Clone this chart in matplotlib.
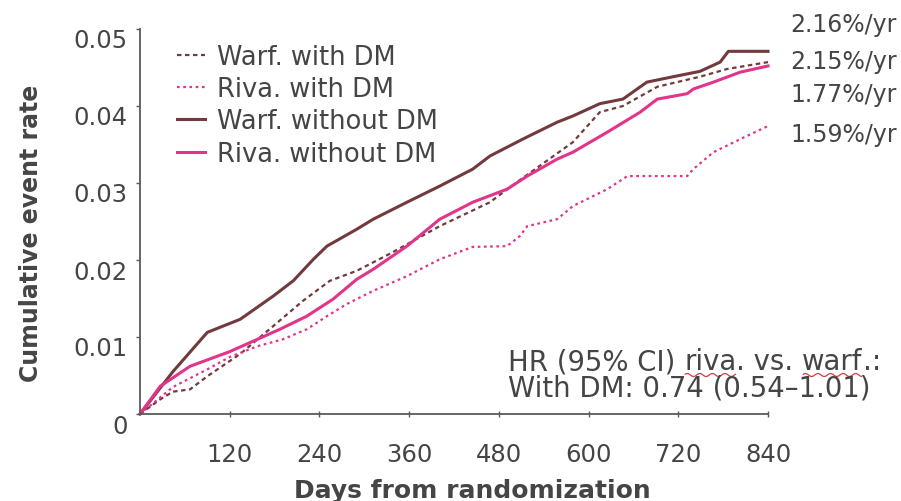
import matplotlib as mpl

mpl.use("Agg")

import matplotlib.pyplot as plt
import numpy as np
from matplotlib.transforms import ScaledTranslation

# (days, cumulative event rate)
warf_dm_days = [0, 27, 44, 67, 90, 134, 178, 218, 254, 290, 334, 401, 468, 504, 579, 615, 646, 692, 749, 785, 840]
warf_dm_rate = [0, 0.0019, 0.0029, 0.0032, 0.0049, 0.0078, 0.0114, 0.0147, 0.0173, 0.0186, 0.0208,
                0.0244, 0.0275, 0.0301, 0.0353, 0.0392, 0.0400, 0.0425, 0.0438, 0.0448, 0.0457]

riva_dm_days = [0, 44, 90, 120, 157, 191, 223, 250, 277, 312, 357, 401, 445, 491, 508, 518, 558, 579,
                625, 652, 732, 740, 767, 803, 840]
riva_dm_rate = [0, 0.0035, 0.0058, 0.0074, 0.0088, 0.0097, 0.0110, 0.0127, 0.0143, 0.0160, 0.0179,
                0.0201, 0.0217, 0.0218, 0.0231, 0.0244, 0.0253, 0.0270, 0.0292, 0.0309, 0.0309,
                0.0318, 0.0340, 0.0357, 0.0374]

warf_nodm_days = [0, 44, 90, 134, 178, 205, 232, 250, 290, 312, 357, 401, 445, 468, 512, 558, 579,
                  615, 646, 678, 713, 749, 776, 787, 840]
warf_nodm_rate = [0, 0.0055, 0.0106, 0.0123, 0.0153, 0.0173, 0.0201, 0.0218, 0.0240, 0.0253, 0.0275,
                  0.0296, 0.0318, 0.0335, 0.0357, 0.0379, 0.0387, 0.0403, 0.0409, 0.0431, 0.0438,
                  0.0445, 0.0457, 0.0471, 0.0471]

riva_nodm_days = [0, 27, 67, 120, 157, 187, 223, 258, 290, 312, 357, 401, 445, 491, 518, 558, 579,
                  625, 669, 692, 732, 740, 767, 803, 840]
riva_nodm_rate = [0, 0.0036, 0.0062, 0.0081, 0.0097, 0.0110, 0.0127, 0.0149, 0.0175, 0.0188, 0.0218,
                  0.0253, 0.0275, 0.0292, 0.0309, 0.0331, 0.0340, 0.0366, 0.0392, 0.0409, 0.0416,
                  0.0422, 0.0431, 0.0444, 0.0452]

legend_labels = ["Warf. with DM", "Riva. with DM", "Warf. without DM", "Riva. without DM"]
rate_labels = ["2.16%/yr", "2.15%/yr", "1.77%/yr", "1.59%/yr"]
x_ticks = [120, 240, 360, 480, 600, 720, 840]
y_ticks = [0, 0.01, 0.02, 0.03, 0.04, 0.05]
y_tick_labels = ["0", "0.01", "0.02", "0.03", "0.04", "0.05"]
# first HR line split so the two flagged words can be underlined
hr_line1_parts = [("HR (95% CI) ", False), ("riva", True), (". vs. ", False), ("warf", True), (".:", False)]
hr_line2 = "With DM: 0.74 (0.54\u20131.01)"

BROWN = "#723a3c"
PINK = "#e2348a"
TEXT = "#454545"
AXIS = "#5a5a5a"
HR_SIZE = 19.8

mpl.rcParams.update({"font.family": "DejaVu Sans"})

W, H = 901, 502
fig = plt.figure(figsize=(W / 100, H / 100), dpi=100)
ax = fig.add_axes([140 / W, 1 - 415 / H, 628 / W, 385 / H])


def fx(px):
    return px / W


def fy(py):
    return 1 - py / H


l1, = ax.plot(warf_dm_days, warf_dm_rate, color=BROWN, lw=1.6, ls=(0, (2.0, 1.6)), clip_on=False)
l2, = ax.plot(riva_dm_days, riva_dm_rate, color=PINK, lw=1.6, ls=(0, (1.2, 1.6)), clip_on=False)
l3, = ax.plot(warf_nodm_days, warf_nodm_rate, color=BROWN, lw=2.2, clip_on=False)
l4, = ax.plot(riva_nodm_days, riva_nodm_rate, color=PINK, lw=2.2, clip_on=False)

ax.set_xlim(0, 840)
ax.set_ylim(0, 0.05)
for side in ("top", "right"):
    ax.spines[side].set_visible(False)
for side in ("left", "bottom"):
    ax.spines[side].set_color(AXIS)
    ax.spines[side].set_linewidth(1.3)

ax.set_xticks(x_ticks)
ax.set_yticks(y_ticks)
ax.set_yticklabels(y_tick_labels)
ax.tick_params(axis="x", direction="inout", length=4, width=1, color=AXIS, pad=18,
               labelsize=17.5, labelcolor=TEXT)
ax.tick_params(axis="y", direction="out", length=3, width=1, color=AXIS, pad=6,
               labelsize=17.5, labelcolor=TEXT)
shift = ScaledTranslation(0, -9 / 100, fig.dpi_scale_trans)
for lab in ax.get_yticklabels():
    lab.set_transform(lab.get_transform() + shift)

fig.text(fx(31), fy(233), "Cumulative event rate", rotation=90, ha="center", va="center",
         fontsize=17, fontweight="bold", color=TEXT)
fig.text(fx(472), fy(498), "Days from randomization", ha="center", va="baseline",
         fontsize=18, fontweight="bold", color=TEXT)

leg = ax.legend([l1, l2, l3, l4], legend_labels, loc="upper left",
                bbox_to_anchor=(fx(177), fy(45)), bbox_transform=fig.transFigure,
                frameon=False, fontsize=18.5, handlelength=1.1, handletextpad=0.45,
                labelspacing=0.24, borderpad=0, borderaxespad=0)
for t in leg.get_texts():
    t.set_color(TEXT)

for lab, base in zip(rate_labels, [32, 69, 102, 142]):
    fig.text(fx(790), fy(base), lab, ha="left", va="baseline", fontsize=17, color=TEXT)

# HR note: pieces chained left to right
pieces = []
prev = None
for s, flagged in hr_line1_parts:
    if prev is None:
        t = fig.text(fx(508), fy(370), s, ha="left", va="baseline", fontsize=HR_SIZE, color=TEXT)
    else:
        t = fig.text(0, 0, s, ha="left", va="baseline", fontsize=HR_SIZE, color=TEXT,
                     transform=fig.transFigure)
    pieces.append((t, flagged))
    prev = t
fig.text(fx(508), fy(397), hr_line2, ha="left", va="baseline", fontsize=HR_SIZE, color=TEXT)

renderer = fig.canvas.get_renderer()
# place each piece right after the previous one using its advance width
x_cursor = 508.0
for t, _ in pieces:
    t.set_position((x_cursor / W, fy(370)))
    w, _, _ = renderer.get_text_width_height_descent(
        t.get_text().replace(" ", "\u00a0"), t.get_fontproperties(), ismath=False)
    x_cursor += w

fig.canvas.draw()
for t, flagged in pieces:
    if not flagged:
        continue
    bb = t.get_window_extent(renderer)
    xs = np.linspace(bb.x0 + 1, bb.x1 - 1, 60)
    ys = (H - 376) + 1.5 * np.sin((xs - bb.x0) / 2.0)
    fig.add_artist(plt.Line2D(xs / W, ys / H, color="#e03a3a", lw=0.9, transform=fig.transFigure))

fig.savefig("out.png", dpi=100)
